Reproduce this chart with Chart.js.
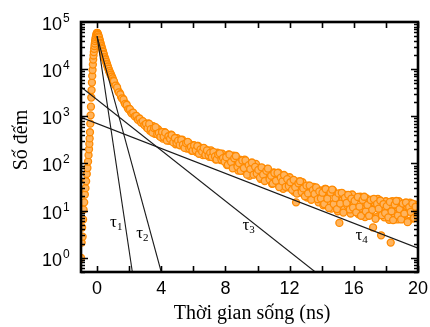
<!DOCTYPE html>
<html>
<head>
<meta charset="utf-8">
<script src="https://cdn.jsdelivr.net/npm/chart.js@4"></script>
<style>
  body { margin: 0; background: #fff; }
</style>
</head>
<body>
<canvas id="decay" width="430" height="327"></canvas>
<script>
/* global Chart */

// measured decay, time in ns / counts
// rising edge
var riseTime = [
  -1.00, -0.96, -0.93, -0.90, -0.87, -0.84, -0.80, -0.76, -0.72, -0.68,
  -0.64, -0.60, -0.56, -0.53, -0.50, -0.48, -0.46, -0.44, -0.42, -0.40,
  -0.38, -0.36, -0.34, -0.32, -0.30, -0.28, -0.26, -0.24, -0.22, -0.20,
  -0.18, -0.16, -0.14, -0.12, -0.10, -0.08, -0.06, -0.04, -0.02, 0.00
];
var riseCounts = [
  1.0, 2.1, 4.4, 2.8, 6.5, 10.5, 15, 22, 30, 42,
  60, 80, 110, 150, 200, 260, 340, 460, 700, 1050,
  1600, 2500, 3600, 5200, 7200, 9600, 12500, 16000, 19500, 23000,
  27000, 31000, 35000, 39500, 43500, 47500, 51000, 54500, 57500, 59000
];
// fast drop after the peak
var peakTime = [
  0.025, 0.05, 0.075, 0.10, 0.125, 0.15, 0.175, 0.20, 0.225, 0.25,
  0.275, 0.30, 0.325, 0.35, 0.375, 0.40, 0.425, 0.45, 0.475, 0.50,
  0.525, 0.55, 0.575, 0.60, 0.625, 0.65, 0.675, 0.70, 0.725, 0.75,
  0.775, 0.80, 0.825, 0.85, 0.875, 0.90, 0.925, 0.95, 0.975, 1.00
];
var peakCounts = [
  58500, 55500, 53500, 49500, 47000, 42500, 40500, 36500, 35000, 31800,
  30500, 27800, 26600, 24100, 23400, 21000, 20400, 18300, 17800, 16300,
  16000, 14500, 14300, 12900, 12700, 11400, 11300, 10200, 10100, 9050,
  9100, 8250, 8350, 7550, 7650, 6900, 6950, 6300, 6350, 5750
];
// slow tail
var tailTime = [
  1.1, 1.2, 1.3, 1.4, 1.5, 1.6, 1.7, 1.8, 1.9, 2.0,
  2.1, 2.2, 2.3, 2.4, 2.5, 2.6, 2.7, 2.8, 2.9, 3.0,
  3.1, 3.2, 3.3, 3.4, 3.5, 3.6, 3.7, 3.8, 3.9, 4.0,
  4.1, 4.2, 4.3, 4.4, 4.5, 4.6, 4.7, 4.8, 4.9, 5.0,
  5.1, 5.2, 5.3, 5.4, 5.5, 5.6, 5.7, 5.8, 5.9, 6.0,
  6.1, 6.2, 6.3, 6.4, 6.5, 6.6, 6.7, 6.8, 6.9, 7.0,
  7.1, 7.2, 7.3, 7.4, 7.5, 7.6, 7.7, 7.8, 7.9, 8.0,
  8.1, 8.2, 8.3, 8.4, 8.5, 8.6, 8.7, 8.8, 8.9, 9.0,
  9.1, 9.2, 9.3, 9.4, 9.5, 9.6, 9.7, 9.8, 9.9, 10.0,
  10.1, 10.2, 10.3, 10.4, 10.5, 10.6, 10.7, 10.8, 10.9, 11.0,
  11.1, 11.2, 11.3, 11.4, 11.5, 11.6, 11.7, 11.8, 11.9, 12.0,
  12.1, 12.2, 12.3, 12.4, 12.5, 12.6, 12.7, 12.8, 12.9, 13.0,
  13.1, 13.2, 13.3, 13.4, 13.5, 13.6, 13.7, 13.8, 13.9, 14.0,
  14.1, 14.2, 14.3, 14.4, 14.5, 14.6, 14.7, 14.8, 14.9, 15.0,
  15.1, 15.2, 15.3, 15.4, 15.5, 15.6, 15.7, 15.8, 15.9, 16.0,
  16.1, 16.2, 16.3, 16.4, 16.5, 16.6, 16.7, 16.8, 16.9, 17.0,
  17.1, 17.2, 17.3, 17.4, 17.5, 17.6, 17.7, 17.8, 17.9, 18.0,
  18.1, 18.2, 18.3, 18.4, 18.5, 18.6, 18.7, 18.8, 18.9, 19.0,
  19.1, 19.2, 19.3, 19.4, 19.5, 19.6, 19.7, 19.8, 19.9, 20.0
];
var tailCounts = [
  4900, 4380, 3560, 3170, 2580, 2400, 1990, 1830, 1540, 1450,
  1250, 1210, 1070, 1035, 905, 895, 785, 790, 695, 705,
  580, 707, 495, 594, 620, 425, 480, 532, 383, 465,
  336, 464, 356, 402, 301, 408, 304, 331, 256, 345,
  286, 241, 322, 241, 281, 207, 277, 221, 186, 246,
  214, 174, 236, 172, 205, 150, 206, 164, 189, 138,
  190, 142, 159, 121, 169, 139, 118, 161, 116, 139,
  92, 155, 115, 90, 146, 92, 117, 71, 120, 95,
  70, 121, 77, 97, 55, 100, 75, 59, 98, 62,
  79, 47, 79, 63, 47, 77, 48, 61, 37, 65,
  48, 38, 64, 40, 52, 29, 54, 39, 31, 51,
  32, 41, 25, 15, 41, 31, 24, 40, 24.5, 32,
  19, 34, 25, 19, 32, 21, 25.5, 15, 27, 21.5,
  13, 29, 19, 14, 25.5, 11, 27, 14.5, 21, 9.7,
  5.5, 23.4, 16.8, 10.6, 21.5, 13, 18.6, 8.7, 22, 13.5,
  10, 18.3, 8.4, 19.7, 11, 15.5, 7.3, 18.1, 12.5, 8.4,
  16.8, 4.4, 14.7, 7.3, 17.8, 10.4, 3.0, 15, 7.2, 15.8,
  10.4, 6.4, 2.1, 15.8, 8.6, 13, 6.5, 15.8, 10.3, 7.4,
  14, 8.6, 12.5, 6, 14.7, 9.4, 6.8, 13.5, 8.2, 11.6
];
// channels in between the ones above
var midTime = [
  1.05, 1.15, 1.25, 1.35, 1.45, 1.55, 1.65, 1.75, 1.85, 1.95,
  2.05, 2.15, 2.25, 2.35, 2.45, 2.55, 2.65, 2.75, 2.85, 2.95,
  3.05, 3.15, 3.25, 3.35, 3.45, 3.55, 3.65, 3.75, 3.85, 3.95,
  4.05, 4.15, 4.25, 4.35, 4.45, 4.55, 4.65, 4.75, 4.85, 4.95,
  5.05, 5.15, 5.25, 5.35, 5.45, 5.55, 5.65, 5.75, 5.85, 5.95,
  6.05, 6.15, 6.25, 6.35, 6.45, 6.55, 6.65, 6.75, 6.85, 6.95,
  7.05, 7.15, 7.25, 7.35, 7.45, 7.55, 7.65, 7.75, 7.85, 7.95,
  8.05, 8.15, 8.25, 8.35, 8.45, 8.55, 8.65, 8.75, 8.85, 8.95,
  9.05, 9.15, 9.25, 9.35, 9.45, 9.55, 9.65, 9.75, 9.85, 9.95,
  10.05, 10.15, 10.25, 10.35, 10.45, 10.55, 10.65, 10.75, 10.85, 10.95,
  11.05, 11.15, 11.25, 11.35, 11.45, 11.55, 11.65, 11.75, 11.85, 11.95,
  12.05, 12.15, 12.25, 12.35, 12.45, 12.55, 12.65, 12.75, 12.85, 12.95,
  13.05, 13.15, 13.25, 13.35, 13.45, 13.55, 13.65, 13.75, 13.85, 13.95,
  14.05, 14.15, 14.25, 14.35, 14.45, 14.55, 14.65, 14.75, 14.85, 14.95,
  15.05, 15.15, 15.25, 15.35, 15.45, 15.55, 15.65, 15.75, 15.85, 15.95,
  16.05, 16.15, 16.25, 16.35, 16.45, 16.55, 16.65, 16.75, 16.85, 16.95,
  17.05, 17.15, 17.25, 17.35, 17.45, 17.55, 17.65, 17.75, 17.85, 17.95,
  18.05, 18.15, 18.25, 18.35, 18.45, 18.55, 18.65, 18.75, 18.85, 18.95,
  19.05, 19.15, 19.25, 19.35, 19.45, 19.55, 19.65, 19.75, 19.85, 19.95
];
var midCounts = [
  5590, 4480, 4100, 3220, 2940, 2400, 2280, 1830, 1760, 1425,
  1420, 1155, 1200, 998, 1024, 846, 899, 738, 793, 651,
  693, 554, 690, 534, 451, 563, 588, 420, 445, 366,
  464, 367, 451, 307, 378, 335, 402, 280, 347, 273,
  305, 247, 316, 250, 214, 272, 287, 208, 224, 187,
  241, 191, 235, 161, 199, 178, 214, 151, 189, 149,
  168, 137, 176, 141, 122, 155, 164, 121, 130, 109,
  136, 94, 154, 107, 79, 129, 144, 85, 102, 70,
  116, 80, 116, 58, 92, 76, 105, 58, 85, 61,
  73, 50, 83, 58, 42.5, 70, 78, 46, 55, 37.6,
  63, 43, 63, 31.6, 50, 41.7, 57, 32, 46.6, 33,
  40, 27.6, 45, 31.5, 23, 38, 42, 24.7, 29.6, 20.2,
  34, 23.2, 34, 17, 27.3, 22.6, 31, 17.5, 25.6, 18.2,
  24, 13.8, 28.8, 17.9, 11.4, 24.3, 28, 13.8, 18.5, 10.8,
  23.2, 14.1, 23.9, 9.1, 18.6, 14.6, 21.6, 10.6, 18, 11.6,
  16.1, 9.2, 19.5, 12.2, 7.8, 16.9, 19.7, 9.7, 13.2, 7.8,
  16.8, 10.4, 17.7, 6.7, 13.9, 11, 16.4, 8, 13.8, 8.9,
  12.5, 7.2, 15.3, 9.7, 6.3, 13.5, 16, 7.9, 10.8, 6.5,
  14.1, 8.7, 14.9, 5.7, 11.9, 9.4, 14.1, 7, 12.1, 7.9
];

// fitted components: start and end of each straight line
var tauNames = ["1", "2", "3", "4"];
var tauStartTime = [0, 0, -1, -1];
var tauStartCounts = [50000, 50000, 4200, 950];
var tauEndTime = [2.2, 4.0, 13.6, 20];
var tauEndCounts = [0.5, 0.5, 0.5, 1.6];
// where each tau label sits (data coordinates)
var tauLabelTime = [0.81, 2.44, 9.06, 16.1];
var tauLabelCounts = [4.6, 2.67, 3.95, 2.42];

var xTicks = [0, 4, 8, 12, 16, 20];
var yTickPowers = [0, 1, 2, 3, 4, 5];

function pairUp(ts, cs) {
  return ts.map(function (t, i) {
    return { x: t, y: cs[i] };
  });
}

var points = []
  .concat(pairUp(riseTime, riseCounts))
  .concat(pairUp(peakTime, peakCounts))
  .concat(pairUp(tailTime, tailCounts))
  .concat(pairUp(midTime, midCounts));

var datasets = [];
for (var k = 0; k < tauNames.length; k++) {
  datasets.push({
    data: [
      { x: tauStartTime[k], y: tauStartCounts[k] },
      { x: tauEndTime[k], y: tauEndCounts[k] },
    ],
    showLine: true,
    borderColor: "#1a1a1a",
    borderWidth: 1.1,
    pointRadius: 0,
    order: 0,
  });
}
datasets.push({
  data: points,
  pointRadius: 3.5,
  borderWidth: 1.3,
  borderColor: "#ff8a00",
  backgroundColor: "#ffb45e",
  order: 1,
});

var decorations = {
  id: "decorations",
  afterDatasetsDraw: function (chart) {
    var ctx = chart.ctx;
    var a = chart.chartArea;
    var xs = chart.scales.x;
    var ys = chart.scales.y;
    ctx.save();
    ctx.strokeStyle = "#000";
    ctx.fillStyle = "#000";

    // inward ticks on all four sides
    ctx.lineWidth = 1.6;
    ctx.beginPath();
    for (var t = 0; t <= 20; t += 2) {
      var px = Math.round(xs.getPixelForValue(t)) + 0.5;
      ctx.moveTo(px, a.bottom);
      ctx.lineTo(px, a.bottom - 6);
      ctx.moveTo(px, a.top);
      ctx.lineTo(px, a.top + 6);
    }
    for (var p = -1; p <= 4; p++) {
      for (var m = 1; m <= 9; m++) {
        var v = m * Math.pow(10, p);
        if (v < ys.min || v > ys.max) continue;
        var py = Math.round(ys.getPixelForValue(v)) + 0.5;
        var len = m === 1 ? 7 : 4;
        ctx.moveTo(a.left, py);
        ctx.lineTo(a.left + len, py);
        ctx.moveTo(a.right, py);
        ctx.lineTo(a.right - len, py);
      }
    }
    ctx.stroke();

    // frame
    ctx.lineWidth = 2.6;
    ctx.strokeRect(a.left, a.top, a.right - a.left, a.bottom - a.top);

    // x tick labels
    ctx.font = "18px 'Liberation Sans', Arial, sans-serif";
    ctx.textAlign = "center";
    ctx.textBaseline = "alphabetic";
    xTicks.forEach(function (v) {
      ctx.fillText(String(v), xs.getPixelForValue(v), 294);
    });

    // y tick labels as 10 with a raised power
    yTickPowers.forEach(function (p) {
      var py = ys.getPixelForValue(Math.pow(10, p));
      ctx.font = "18px 'Liberation Sans', Arial, sans-serif";
      ctx.textAlign = "right";
      ctx.fillText("10", 62, py + 8);
      ctx.font = "12px 'Liberation Sans', Arial, sans-serif";
      ctx.textAlign = "left";
      ctx.fillText(String(p), 63, py);
    });

    // axis titles
    ctx.font = "20px 'Liberation Serif', 'Times New Roman', serif";
    ctx.textAlign = "center";
    ctx.fillText("Thời gian sống (ns)", 252, 319);
    ctx.save();
    ctx.translate(27, 140);
    ctx.rotate(-Math.PI / 2);
    ctx.fillText("Số đếm", 0, 0);
    ctx.restore();

    // tau labels
    ctx.textAlign = "left";
    for (var i = 0; i < tauNames.length; i++) {
      var lx = xs.getPixelForValue(tauLabelTime[i]);
      var ly = ys.getPixelForValue(tauLabelCounts[i]);
      ctx.font = "17px 'Liberation Serif', 'Times New Roman', serif";
      ctx.fillText("τ", lx, ly);
      var w = ctx.measureText("τ").width;
      ctx.font = "11px 'Liberation Serif', 'Times New Roman', serif";
      ctx.fillText(tauNames[i], lx + w, ly + 3);
    }
    ctx.restore();
  },
};

new Chart(document.getElementById("decay").getContext("2d"), {
  type: "scatter",
  data: { datasets: datasets },
  options: {
    responsive: false,
    animation: false,
    layout: { padding: { left: 81, right: 12, top: 22, bottom: 55 } },
    plugins: { legend: { display: false }, tooltip: { enabled: false } },
    scales: {
      x: { type: "linear", min: -1, max: 20, display: false },
      y: { type: "logarithmic", min: 0.5, max: 100000, display: false },
    },
  },
  plugins: [decorations],
});
</script>
</body>
</html>
